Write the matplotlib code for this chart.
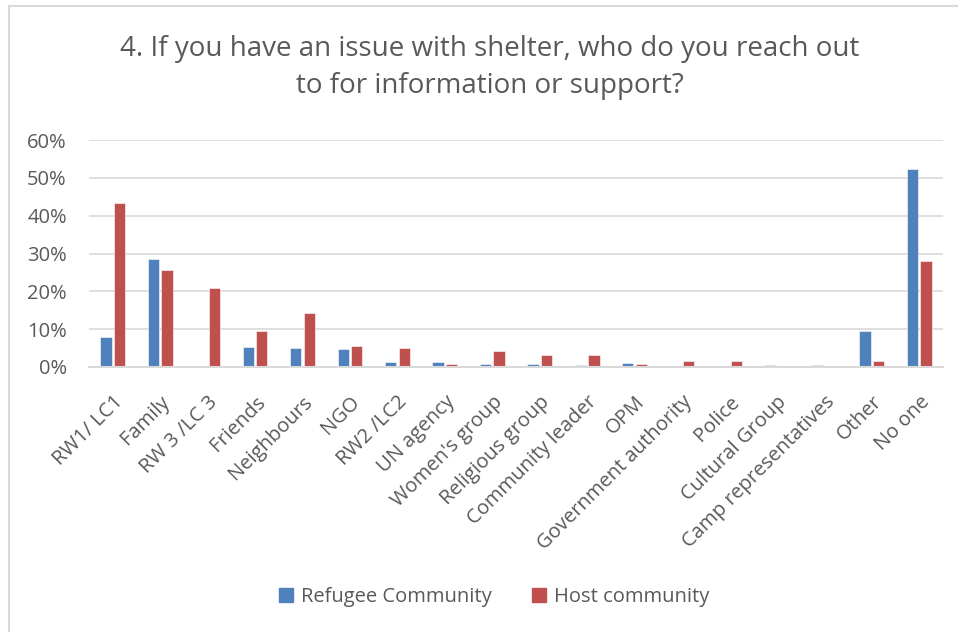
import matplotlib
matplotlib.use("Agg")
import matplotlib.pyplot as plt
from matplotlib.lines import Line2D
from matplotlib.patches import Patch
import numpy as np

categories = [
    "RW1/ LC1", "Family", "RW 3 /LC 3", "Friends", "Neighbours", "NGO",
    "RW2 /LC2", "UN agency", "Women's group", "Religious group",
    "Community leader", "OPM", "Government authority", "Police",
    "Cultural Group", "Camp representatives", "Other", "No one",
]
refugee = [7.8, 28.6, 0.0, 5.4, 5.1, 4.7, 1.2, 1.2, 0.7, 0.7,
           0.4, 1.1, 0.0, 0.0, 0.4, 0.4, 9.4, 52.4]
host = [43.3, 25.6, 20.8, 9.6, 14.4, 5.6, 4.9, 0.7, 4.1, 3.2,
        3.2, 0.7, 1.7, 1.7, 0.0, 0.0, 1.7, 28.1]
yticks = [0, 10, 20, 30, 40, 50, 60]
series_names = ["Refugee Community", "Host community"]
title = "4. If you have an issue with shelter, who do you reach out\nto for information or support?"

BLUE = "#4F81BD"
RED = "#C0504D"
GRID = "#D9D9D9"
TEXT = "#595959"
FONT = ["Open Sans", "DejaVu Sans"]
LABEL_SIZE = 14.5

fig = plt.figure(figsize=(9.58, 6.32), dpi=100)
fig.patch.set_facecolor("white")

# chart frame (left and top edges)
fig.add_artist(Line2D([8.5 / 958, 8.5 / 958], [0, 1 - 6 / 632], color=GRID, lw=1.5,
                      transform=fig.transFigure))
fig.add_artist(Line2D([8.5 / 958, 1], [1 - 6 / 632, 1 - 6 / 632], color=GRID, lw=1.5,
                      transform=fig.transFigure))

ax = fig.add_axes([89 / 958, 1 - 367 / 632, (943 - 89) / 958, (367 - 140) / 632])

x = np.arange(len(categories))
w = 0.235
off = 0.143
ax.bar(x - off, refugee, width=w, color=BLUE, edgecolor="white", linewidth=0.4, zorder=3)
ax.bar(x + off, host, width=w, color=RED, edgecolor="white", linewidth=0.4, zorder=3)

ax.set_xlim(-0.5, len(categories) - 0.5)
ax.set_ylim(0, 60)
ax.set_yticks(yticks)
ax.set_yticklabels([f"{v}%" for v in yticks], family=FONT, fontsize=LABEL_SIZE, color=TEXT)
ax.tick_params(axis="y", length=0, pad=16)
ax.yaxis.grid(True, color=GRID, lw=1.2, zorder=0)
ax.set_axisbelow(True)

ax.set_xticks(x)
ax.set_xticklabels(categories, rotation=45, ha="right", va="top", rotation_mode="anchor",
                   family=FONT, fontsize=LABEL_SIZE, color=TEXT)
ax.tick_params(axis="x", length=0, pad=18)

for s in ["top", "right", "left"]:
    ax.spines[s].set_visible(False)
ax.spines["bottom"].set_color(GRID)
ax.spines["bottom"].set_linewidth(1.5)
ax.spines["bottom"].set_zorder(4)

fig.text(490 / 958, 1 - 67.5 / 632, title, ha="center", va="center", family=FONT,
         fontsize=20, color=TEXT, linespacing=1.45)

handles = [Patch(facecolor=BLUE, edgecolor=BLUE), Patch(facecolor=RED, edgecolor=RED)]
fig.legend(handles, series_names, loc="center", bbox_to_anchor=(494 / 958, 1 - 597 / 632),
           ncol=2, frameon=False, prop={"family": FONT, "size": LABEL_SIZE},
           labelcolor=TEXT, handlelength=0.7, handleheight=0.7, handletextpad=0.4,
           columnspacing=2.0)

fig.savefig("out.png", dpi=100, facecolor="white")
